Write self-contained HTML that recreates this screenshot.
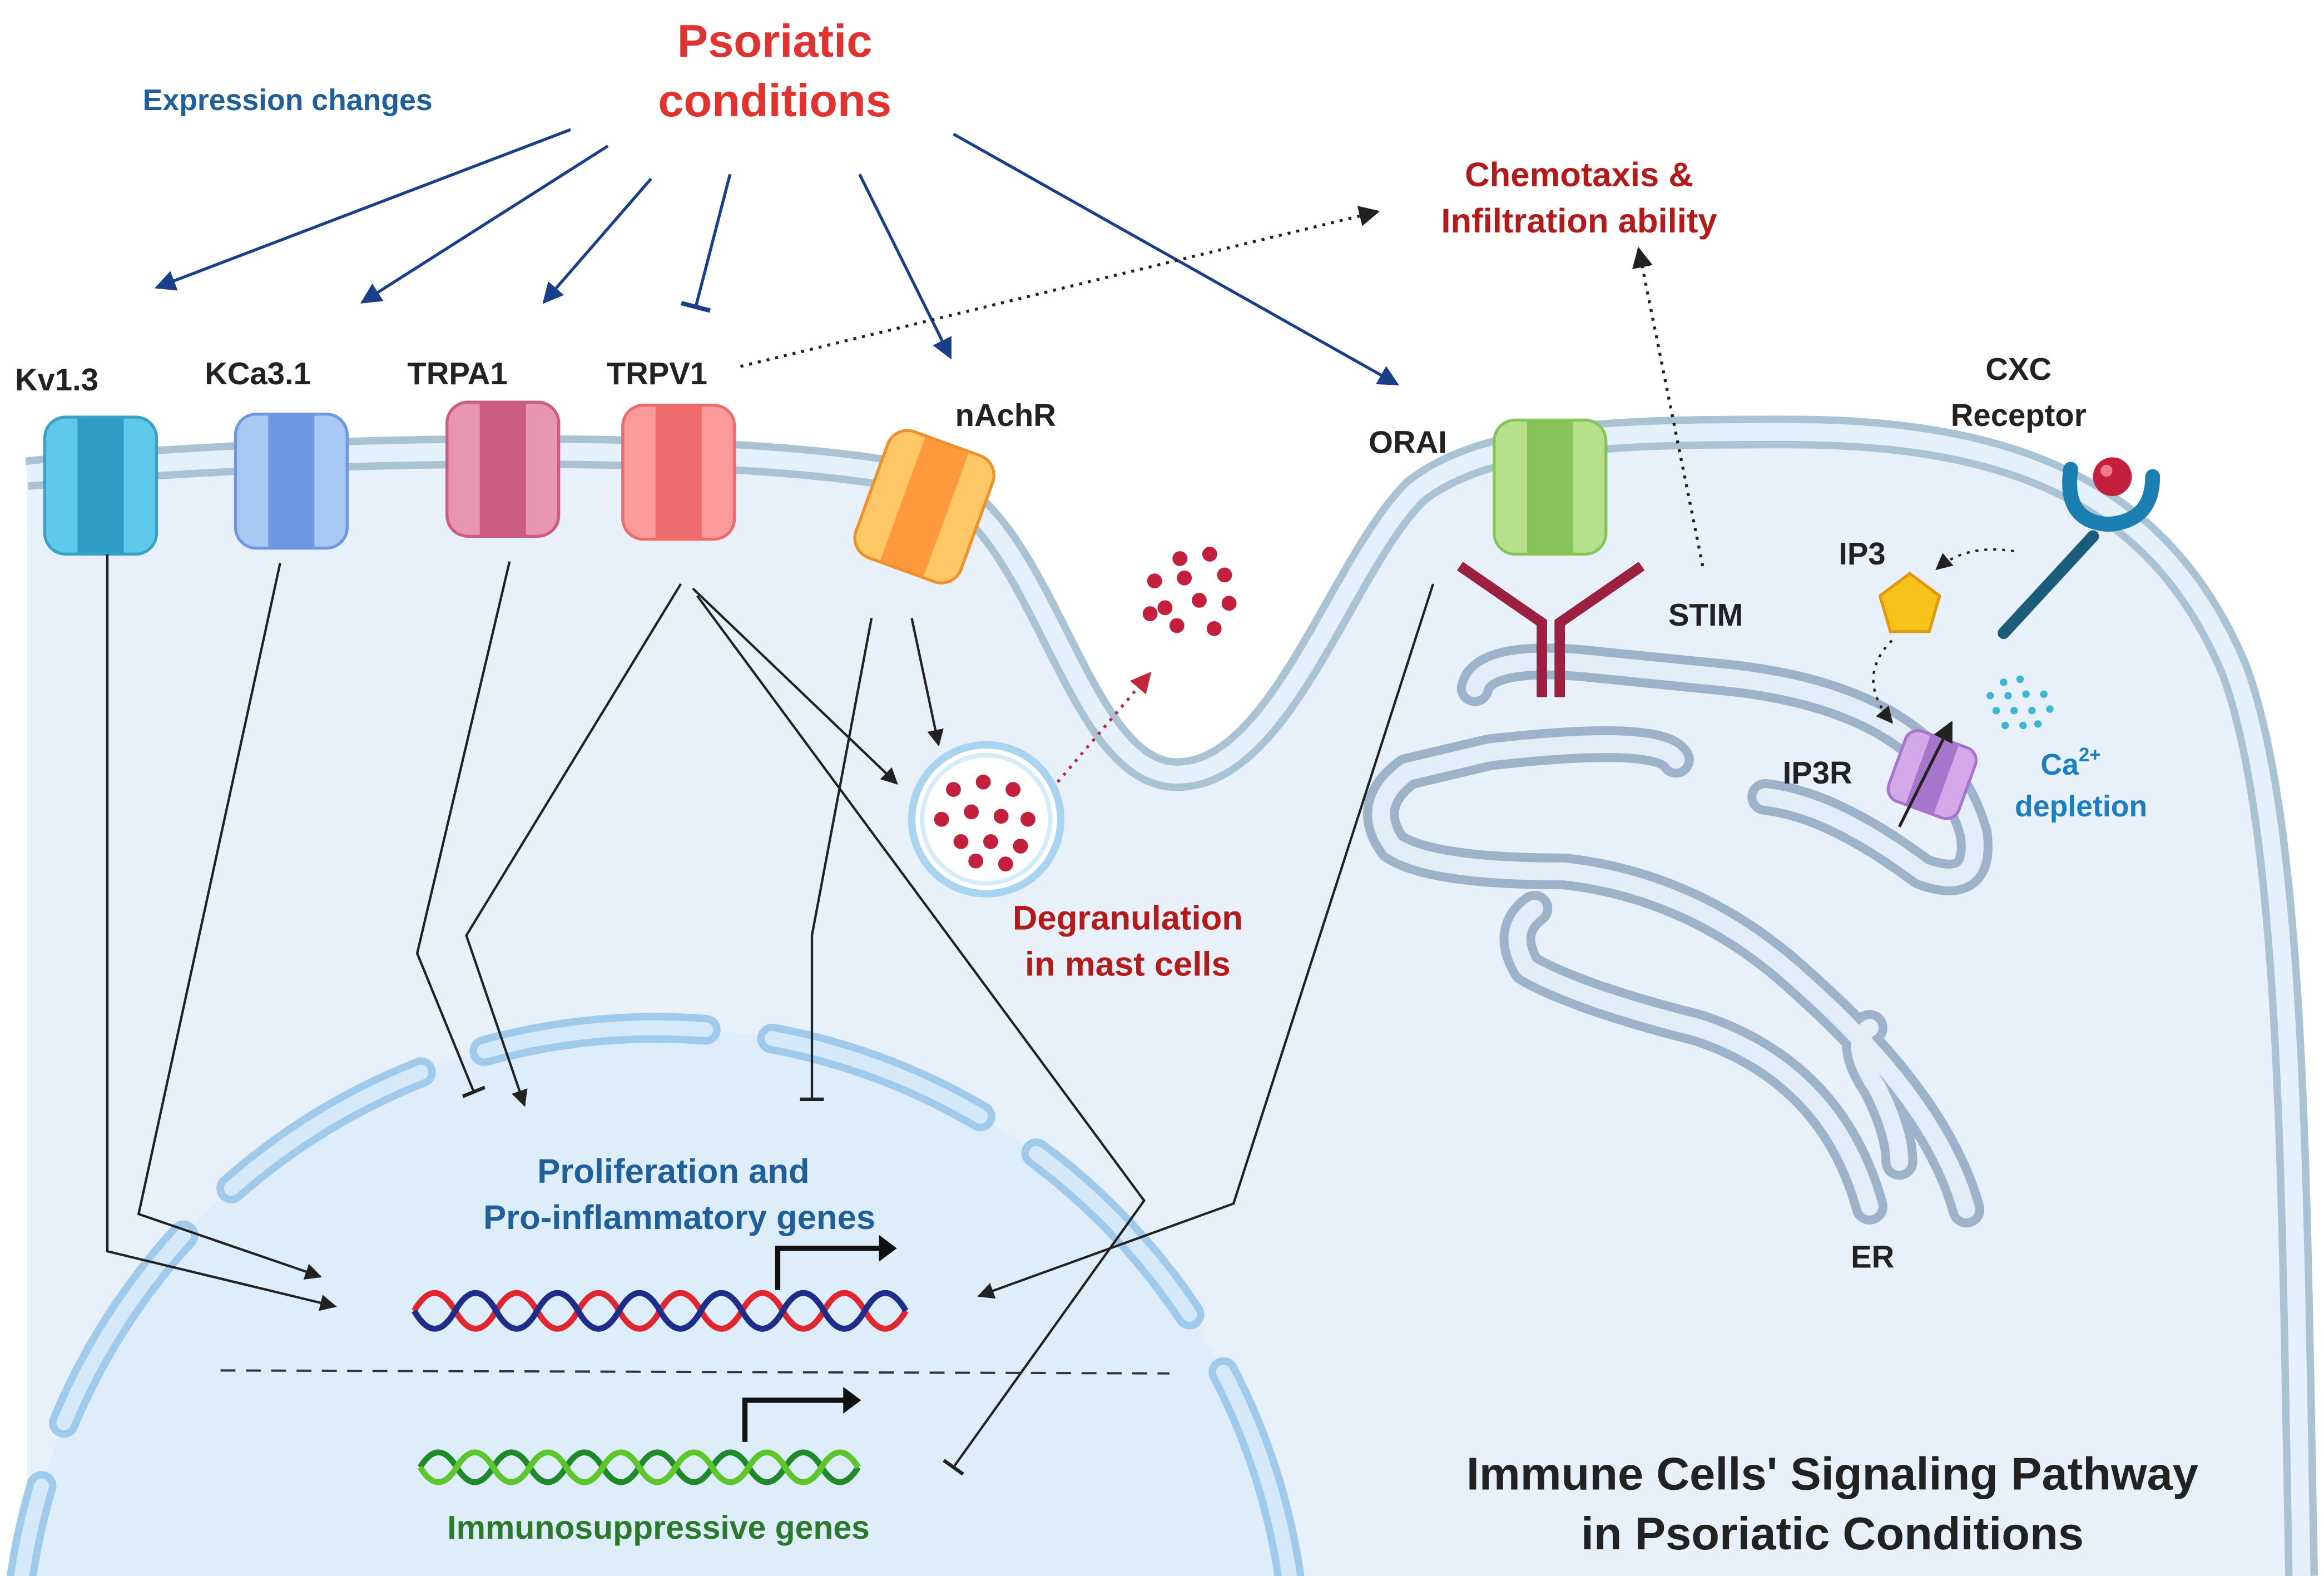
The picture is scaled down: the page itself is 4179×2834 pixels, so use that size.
<!DOCTYPE html>
<html><head><meta charset="utf-8"><style>
html,body{margin:0;padding:0;background:#fff;width:4179px;height:2834px;overflow:hidden;}
svg{display:block;}
text{font-family:"Liberation Sans",sans-serif;font-weight:bold;}
</style></head><body>
<svg width="4179" height="2834" viewBox="0 0 1560 1058" xmlns="http://www.w3.org/2000/svg">
<defs>
<marker id="an" viewBox="0 0 10 10" refX="9" refY="5" markerWidth="7" markerHeight="7" orient="auto"><path d="M0,0 L10,5 L0,10 z" fill="#1a3f8a"/></marker>
<marker id="ab" viewBox="0 0 10 10" refX="9" refY="5" markerWidth="7" markerHeight="7" orient="auto"><path d="M0,0 L10,5 L0,10 z" fill="#222"/></marker>
<marker id="ar" viewBox="0 0 10 10" refX="9" refY="5" markerWidth="7" markerHeight="7" orient="auto"><path d="M0,0 L10,5 L0,10 z" fill="#c0283a"/></marker>
<marker id="tn" viewBox="0 0 10 10" refX="5" refY="5" markerWidth="10" markerHeight="10" orient="auto"><path d="M5,0 L5,10" stroke="#1a3f8a" stroke-width="1.5"/></marker>
<marker id="tb" viewBox="0 0 10 10" refX="5" refY="5" markerWidth="10" markerHeight="10" orient="auto"><path d="M5,0 L5,10" stroke="#222" stroke-width="1.5"/></marker>
</defs>

<path d="M18,318 C200,300 500,295 620,322 C700,340 720,520 790,520 C860,520 900,380 950,330 C1000,290 1100,290 1200,290 C1350,290 1450,330 1500,450 C1540,560 1540,800 1545,1058 L18,1058 Z" fill="#e8f1fa"/>
<circle cx="440" cy="1120" r="430" fill="#ddeefa"/>
<circle cx="440" cy="1120" r="430" fill="none" stroke="#9fcaec" stroke-width="20" stroke-dasharray="150 45" stroke-dashoffset="40" stroke-linecap="round"/>
<circle cx="440" cy="1120" r="430" fill="none" stroke="#d4e9f9" stroke-width="10" stroke-dasharray="150 45" stroke-dashoffset="40" stroke-linecap="round"/>
<path d="M18,318 C200,300 500,295 620,322 C700,340 720,520 790,520 C860,520 900,380 950,330 C1000,290 1100,290 1200,290 C1350,290 1450,330 1500,450 C1540,560 1540,800 1545,1058" fill="none" stroke="#a9c2d4" stroke-width="22"/>
<path d="M18,318 C200,300 500,295 620,322 C700,340 720,520 790,520 C860,520 900,380 950,330 C1000,290 1100,290 1200,290 C1350,290 1450,330 1500,450 C1540,560 1540,800 1545,1058" fill="none" stroke="#e4f1fb" stroke-width="12"/>

<g fill="none" stroke-linecap="round" stroke-linejoin="round">
<g stroke="#9db3c9" stroke-width="24">
<path d="M990,462 Q995,440 1060,445 L1160,455 Q1300,470 1325,560 Q1330,600 1290,585 Q1230,540 1185,535"/>
<path d="M1125,510 Q1115,492 1000,505 L945,518 Q915,540 935,568 Q960,585 1050,585 Q1140,595 1210,660 Q1300,740 1320,812"/>
<path d="M1030,610 Q1010,625 1025,650 Q1060,670 1140,690 Q1230,720 1255,810"/>
<path d="M1255,690 Q1240,700 1260,730 Q1275,760 1275,780"/>
</g>
<g stroke="#e3edf7" stroke-width="12">
<path d="M990,462 Q995,440 1060,445 L1160,455 Q1300,470 1325,560 Q1330,600 1290,585 Q1230,540 1185,535"/>
<path d="M1125,510 Q1115,492 1000,505 L945,518 Q915,540 935,568 Q960,585 1050,585 Q1140,595 1210,660 Q1300,740 1320,812"/>
<path d="M1030,610 Q1010,625 1025,650 Q1060,670 1140,690 Q1230,720 1255,810"/>
<path d="M1255,690 Q1240,700 1260,730 Q1275,760 1275,780"/>
</g>
</g>

<g>
<g transform="translate(30,280)"><rect x="0" y="0" width="75" height="92" rx="14" fill="#5ec9ea"/><rect x="22" y="0" width="31" height="92" fill="#2f9cc6"/><rect x="0" y="0" width="75" height="92" rx="14" fill="none" stroke="#3aa0c4" stroke-width="2"/></g>
<g transform="translate(158,278)"><rect x="0" y="0" width="75" height="90" rx="14" fill="#a6c8f3"/><rect x="22" y="0" width="31" height="90" fill="#6d97e0"/><rect x="0" y="0" width="75" height="90" rx="14" fill="none" stroke="#6d97e0" stroke-width="2"/></g>
<g transform="translate(300,270)"><rect x="0" y="0" width="75" height="90" rx="14" fill="#e896b0"/><rect x="22" y="0" width="31" height="90" fill="#cc5c80"/><rect x="0" y="0" width="75" height="90" rx="14" fill="none" stroke="#cc5c80" stroke-width="2"/></g>
<g transform="translate(418,272)"><rect x="0" y="0" width="75" height="90" rx="14" fill="#fb9a9a"/><rect x="22" y="0" width="31" height="90" fill="#ef6a6a"/><rect x="0" y="0" width="75" height="90" rx="14" fill="none" stroke="#ef6a6a" stroke-width="2"/></g>
<g transform="translate(620,340) rotate(20) translate(-37,-45)"><rect x="0" y="0" width="75" height="90" rx="14" fill="#ffc766"/><rect x="22" y="0" width="31" height="90" fill="#ff9a3c"/><rect x="0" y="0" width="75" height="90" rx="14" fill="none" stroke="#f0902a" stroke-width="2"/></g>
<g transform="translate(1003,282)"><rect x="0" y="0" width="75" height="90" rx="14" fill="#b6e08a"/><rect x="22" y="0" width="31" height="90" fill="#86c45a"/><rect x="0" y="0" width="75" height="90" rx="14" fill="none" stroke="#86c45a" stroke-width="2"/></g>
</g>

<g stroke="#9c2040" stroke-width="7" fill="none">
<path d="M980,380 L1035,418 L1035,468"/><path d="M1102,380 L1047,418 L1047,468"/>
</g>

<line x1="1345" y1="425" x2="1405" y2="360" stroke="#1a5c7a" stroke-width="8" stroke-linecap="round"/>
<path d="M1390,315 Q1385,350 1415,352 Q1445,350 1445,320" fill="none" stroke="#1a7fb0" stroke-width="10" stroke-linecap="round"/>
<circle cx="1418" cy="320" r="13" fill="#c41f3d"/>
<circle cx="1414" cy="316" r="4" fill="#f07a8a"/>
<polygon points="1282,385 1302,400 1295,424 1269,424 1262,400" fill="#f7c21a" stroke="#e09a10" stroke-width="2"/>
<path d="M1352,370 Q1320,365 1300,382" fill="none" stroke="#222" stroke-width="1.6" stroke-dasharray="2,4" marker-end="url(#ab)"/>
<path d="M1270,430 Q1245,455 1270,485" fill="none" stroke="#222" stroke-width="1.6" stroke-dasharray="2,4" marker-end="url(#ab)"/>
<g transform="translate(1297,520) rotate(20) translate(-25,-25)"><rect width="50" height="50" rx="9" fill="#d3a9ea"/><rect x="15" width="20" height="50" fill="#a676cc"/><rect width="50" height="50" rx="9" fill="none" stroke="#a676cc" stroke-width="2"/></g>
<line x1="1275" y1="555" x2="1310" y2="485" stroke="#222" stroke-width="2" marker-end="url(#ab)"/>
<g fill="#3cb6d6">
<circle cx="1345" cy="458" r="2.5"/><circle cx="1356" cy="456" r="2.5"/><circle cx="1336" cy="467" r="2.5"/><circle cx="1348" cy="467" r="2.5"/><circle cx="1360" cy="466" r="2.5"/><circle cx="1372" cy="466" r="2.5"/><circle cx="1340" cy="477" r="2.5"/><circle cx="1352" cy="477" r="2.5"/><circle cx="1364" cy="477" r="2.5"/><circle cx="1376" cy="476" r="2.5"/><circle cx="1346" cy="487" r="2.5"/><circle cx="1358" cy="487" r="2.5"/><circle cx="1368" cy="486" r="2.5"/>
</g>

<circle cx="662" cy="550" r="50" fill="#fff" stroke="#a9d4f0" stroke-width="5"/>
<circle cx="662" cy="550" r="43" fill="none" stroke="#d4ebfa" stroke-width="3"/>
<g fill="#c41f3d">
<circle cx="640" cy="530" r="5"/><circle cx="660" cy="525" r="5"/><circle cx="680" cy="530" r="5"/><circle cx="632" cy="550" r="5"/><circle cx="652" cy="545" r="5"/><circle cx="672" cy="548" r="5"/><circle cx="690" cy="550" r="5"/><circle cx="645" cy="565" r="5"/><circle cx="665" cy="565" r="5"/><circle cx="685" cy="568" r="5"/><circle cx="655" cy="578" r="5"/><circle cx="675" cy="580" r="5"/>
<circle cx="792" cy="375" r="5"/><circle cx="812" cy="372" r="5"/><circle cx="775" cy="390" r="5"/><circle cx="795" cy="388" r="5"/><circle cx="822" cy="386" r="5"/><circle cx="782" cy="408" r="5"/><circle cx="805" cy="403" r="5"/><circle cx="825" cy="405" r="5"/><circle cx="772" cy="412" r="5"/><circle cx="790" cy="420" r="5"/><circle cx="815" cy="422" r="5"/>
</g>

<g stroke="#1a3f8a" stroke-width="2" fill="none">
<line x1="383" y1="87" x2="105" y2="193" marker-end="url(#an)"/>
<line x1="408" y1="98" x2="243" y2="203" marker-end="url(#an)"/>
<line x1="437" y1="120" x2="365" y2="203" marker-end="url(#an)"/>
<line x1="490" y1="117" x2="467" y2="206" marker-end="url(#tn)"/>
<line x1="577" y1="117" x2="638" y2="240" marker-end="url(#an)"/>
<line x1="640" y1="90" x2="938" y2="258" marker-end="url(#an)"/>
</g>
<line x1="497" y1="246" x2="925" y2="142" stroke="#222" stroke-width="2" stroke-dasharray="2,4" marker-end="url(#ab)"/>
<line x1="1143" y1="380" x2="1100" y2="167" stroke="#222" stroke-width="2" stroke-dasharray="2,4" marker-end="url(#ab)"/>
<line x1="710" y1="525" x2="772" y2="452" stroke="#c0283a" stroke-width="2" stroke-dasharray="2,4" marker-end="url(#ar)"/>

<g stroke="#222" stroke-width="1.6" fill="none">
<polyline points="72,372 72,840 225,877" marker-end="url(#ab)"/>
<polyline points="188,378 93,815 215,857" marker-end="url(#ab)"/>
<polyline points="342,377 280,640 318,733" marker-end="url(#tb)"/>
<polyline points="457,392 313,628 352,742" marker-end="url(#ab)"/>
<polyline points="465,395 602,526" marker-end="url(#ab)"/>
<polyline points="468,400 768,806 640,985" marker-end="url(#tb)"/>
<polyline points="585,415 545,628 545,738" marker-end="url(#tb)"/>
<polyline points="612,415 630,500" marker-end="url(#ab)"/>
<polyline points="962,392 828,808 657,870" marker-end="url(#ab)"/>
</g>
<line x1="148" y1="920" x2="785" y2="922" stroke="#333" stroke-width="1.5" stroke-dasharray="10,7"/>

<path d="M278,880 q13.75,-24 27.5,0 t27.5,0 t27.5,0 t27.5,0 t27.5,0 t27.5,0 t27.5,0 t27.5,0 t27.5,0 t27.5,0 t27.5,0 t27.5,0" fill="none" stroke="#e0262e" stroke-width="4"/>
<path d="M278,880 q13.75,24 27.5,0 t27.5,0 t27.5,0 t27.5,0 t27.5,0 t27.5,0 t27.5,0 t27.5,0 t27.5,0 t27.5,0 t27.5,0 t27.5,0" fill="none" stroke="#1e2c8a" stroke-width="4"/>
<path d="M282,985 q12.25,-20 24.5,0 t24.5,0 t24.5,0 t24.5,0 t24.5,0 t24.5,0 t24.5,0 t24.5,0 t24.5,0 t24.5,0 t24.5,0 t24.5,0" fill="none" stroke="#1f8a2a" stroke-width="4"/>
<path d="M282,985 q12.25,20 24.5,0 t24.5,0 t24.5,0 t24.5,0 t24.5,0 t24.5,0 t24.5,0 t24.5,0 t24.5,0 t24.5,0 t24.5,0 t24.5,0" fill="none" stroke="#5cc62a" stroke-width="4"/>
<polyline points="522,866 522,838 592,838" fill="none" stroke="#111" stroke-width="3.5"/>
<path d="M590,829 L602,838 L590,847 z" fill="#111"/>
<polyline points="500,968 500,940 568,940" fill="none" stroke="#111" stroke-width="3.5"/>
<path d="M566,931 L578,940 L566,949 z" fill="#111"/>

<g text-anchor="middle">
<text x="520" y="38" font-size="31" fill="#e0322e">Psoriatic</text>
<text x="520" y="78" font-size="31" fill="#e0322e">conditions</text>
<text x="193" y="74" font-size="20" fill="#1f5f9a">Expression changes</text>
<text x="38" y="262" font-size="21" fill="#222">Kv1.3</text>
<text x="173" y="258" font-size="21" fill="#222">KCa3.1</text>
<text x="307" y="258" font-size="21" fill="#222">TRPA1</text>
<text x="441" y="258" font-size="21" fill="#222">TRPV1</text>
<text x="675" y="286" font-size="21" fill="#222">nAchR</text>
<text x="945" y="304" font-size="21" fill="#222">ORAI</text>
<text x="1145" y="420" font-size="21" fill="#222">STIM</text>
<text x="1355" y="255" font-size="21" fill="#222">CXC</text>
<text x="1355" y="286" font-size="21" fill="#222">Receptor</text>
<text x="1250" y="379" font-size="21" fill="#222">IP3</text>
<text x="1220" y="526" font-size="21" fill="#222">IP3R</text>
<text x="1390" y="520" font-size="20" fill="#1a7fc0">Ca<tspan font-size="13" dy="-9">2+</tspan></text>
<text x="1397" y="548" font-size="20" fill="#1a7fc0">depletion</text>
<text x="1257" y="851" font-size="21" fill="#222">ER</text>
<text x="1060" y="125" font-size="23" fill="#b31b1b">Chemotaxis &amp;</text>
<text x="1060" y="156" font-size="23" fill="#b31b1b">Infiltration ability</text>
<text x="757" y="624" font-size="23" fill="#b31b1b">Degranulation</text>
<text x="757" y="655" font-size="23" fill="#b31b1b">in mast cells</text>
<text x="452" y="794" font-size="23" fill="#1f5f9a">Proliferation and</text>
<text x="456" y="825" font-size="23" fill="#1f5f9a">Pro-inflammatory genes</text>
<text x="442" y="1033" font-size="22" fill="#2b7a2b">Immunosuppressive genes</text>
<text x="1230" y="1000" font-size="31" fill="#222">Immune Cells' Signaling Pathway</text>
<text x="1230" y="1040" font-size="31" fill="#222">in Psoriatic Conditions</text>
</g>
</svg>
</body></html>
